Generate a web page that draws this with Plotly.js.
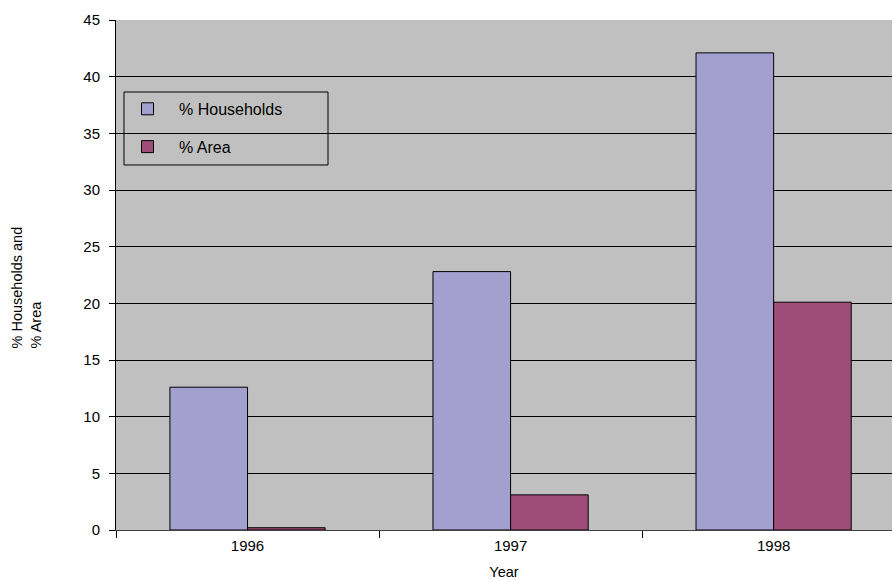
<!DOCTYPE html>
<html>
<head>
<meta charset="utf-8">
<script src="https://cdn.plot.ly/plotly-3.0.1.min.js"></script>
<style>html,body{margin:0;padding:0;overflow:hidden;background:#fff}</style>
</head>
<body>
<div id="chart" style="width:892px;height:580px"></div>
<script>
const years = ['1996', '1997', '1998'];
const households = [12.6, 22.8, 42.1];
const area = [0.2, 3.1, 20.1];
const yTicks = [0, 5, 10, 15, 20, 25, 30, 35, 40, 45];
const yTitle = '% Households and<br>% Area';
const xTitle = 'Year';

const fam = 'Arial, "Liberation Sans", sans-serif';
const tickFont = {family: fam, size: 15, color: '#000'};
const legendFont = {family: fam, size: 16, color: '#000'};
const titleFont = {family: fam, size: 14.5, color: '#000'};

const traces = [
  {type: 'bar', name: '% Households', x: years, y: households,
   marker: {color: '#a3a0cf', line: {color: '#000', width: 1}}, legendgroup: 'a'},
  {type: 'bar', name: '% Area', x: years, y: area,
   marker: {color: '#a04c78', line: {color: '#000', width: 1}}, legendgroup: 'b'}
];

const layout = {
  width: 892, height: 580,
  margin: {l: 116, r: 0, t: 20, b: 50},
  paper_bgcolor: '#fff', plot_bgcolor: '#c0c0c0',
  font: tickFont,
  barmode: 'group', bargap: 0.41, bargroupgap: 0,
  showlegend: true,
  legend: {x: 0, y: 0.859, xanchor: 'left', yanchor: 'top',
    bgcolor: 'rgba(0,0,0,0)', borderwidth: 0,
    font: legendFont, itemwidth: 53, tracegroupgap: 14, traceorder: 'grouped'},
  shapes: [{type: 'rect', xref: 'paper', yref: 'paper',
    x0: 0.0103, x1: 0.2732, y0: 0.7157, y1: 0.8588,
    line: {color: '#000', width: 1}, fillcolor: 'rgba(0,0,0,0)'}],
  annotations: [{text: yTitle, xref: 'paper', yref: 'paper',
    x: -0.1147, y: 0.4755, xanchor: 'center', yanchor: 'middle',
    textangle: -90, align: 'left', showarrow: false, font: titleFont}],
  xaxis: {type: 'category', range: [-0.5, 2.45], tickson: 'boundaries',
    ticks: 'outside', ticklen: 7, tickcolor: '#000', showgrid: false,
    showline: true, linecolor: '#404040', linewidth: 1, zeroline: false,
    tickfont: tickFont, ticklabelstandoff: 2,
    title: {text: xTitle, font: titleFont, standoff: 14}},
  yaxis: {range: [0, 45], tickvals: yTicks, ticktext: yTicks.map(String),
    ticks: 'outside', ticklen: 6, tickcolor: '#000',
    showgrid: true, gridcolor: '#000', gridwidth: 1,
    showline: true, linecolor: '#000', linewidth: 1, zeroline: false,
    tickfont: tickFont, ticklabelstandoff: 6}
};

Plotly.newPlot('chart', traces, layout, {displayModeBar: false, staticPlot: true});
</script>
</body>
</html>
